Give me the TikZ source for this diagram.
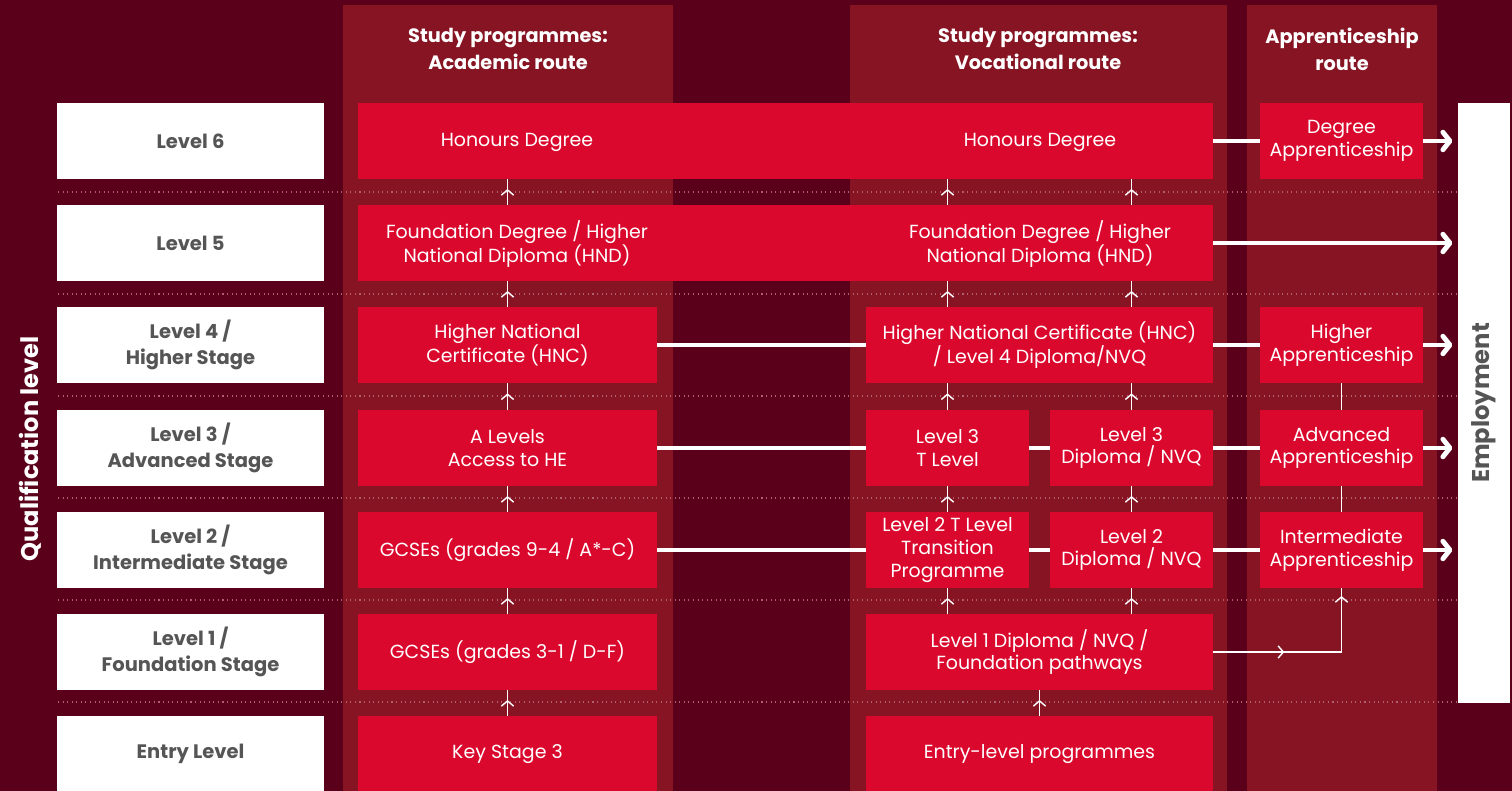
\documentclass[tikz,border=0pt]{standalone}
\usepackage{fontspec}
\setmainfont{Poppins}
\usetikzlibrary{arrows.meta,decorations.markings}
\definecolor{bgdark}{RGB}{91,0,26}
\definecolor{panel}{RGB}{134,20,35}
\definecolor{qualred}{RGB}{218,8,44}
\definecolor{labelgray}{RGB}{85,85,85}
\definecolor{dotpink}{RGB}{175,95,110}
\tikzstyle{level} = [fill=white, text=labelgray, font=\fontsize{11.1}{14.8}\selectfont\bfseries, minimum width=5.34cm, minimum height=1.52cm, align=center, inner sep=0pt]
\tikzstyle{qual} = [fill=qualred, text=white, font=\fontsize{10.8}{13}\selectfont, minimum height=1.52cm, align=center, inner sep=0pt]
\tikzstyle{acad} = [qual, minimum width=5.98cm]
\tikzstyle{voc} = [qual, minimum width=6.94cm]
\tikzstyle{half} = [qual, minimum width=3.26cm]
\tikzstyle{head} = [text=white, font=\fontsize{11}{15.4}\selectfont\bfseries, align=center]
\tikzstyle{link} = [draw=white, line width=2.8pt]
\tikzstyle{tojob} = [link, -{Straight Barb[length=4pt,width=10pt,line cap=round,line join=round]}, shorten >=3pt]
\tikzstyle{thinlink} = [draw=white, line width=0.8pt]
\tikzstyle{climb} = [thinlink, postaction={decorate}, decoration={markings, mark=at position 0.62 with {\arrow{Straight Barb[length=3pt,width=7pt]}}}]
\tikzstyle{sidestep} = [thinlink, postaction={decorate}, decoration={markings, mark=at position 0.37 with {\arrow{Straight Barb[length=3pt,width=7pt]}}, mark=at position 0.96 with {\arrow{Straight Barb[length=3pt,width=7pt]}}}]

\begin{document}
\begin{tikzpicture}[x=0.02cm, y=-0.02cm]
    \useasboundingbox (0,0) rectangle (1512,791);
    \fill[bgdark] (0,0) rectangle (1512,791);
    % route panels
    \fill[panel] (343,5) rectangle (673,791);
    \fill[panel] (850,5) rectangle (1227,791);
    \fill[panel] (1247,5) rectangle (1437,791);
    \foreach \y in {192,294,396,498,600,702}
        \draw[dotpink, dotted, line width=0.6pt] (58,\y) -- (1457,\y);

    \node[text=white, rotate=90, font=\fontsize{13.7}{15}\selectfont\bfseries] (quallevel) at (30,449) {Qualification level};
    \node[head] (acadhead) at (508,49) {Study programmes:\\Academic route};
    \node[head] (vochead) at (1038,49) {Study programmes:\\Vocational route};
    \node[head] (apphead) at (1342,49) {Apprenticeship\\route};

    % levels
    \node[level] (lvsix) at (190.5,141) {Level 6};
    \node[level] (lvfive) at (190.5,243) {Level 5};
    \node[level] (lvfour) at (190.5,345) {Level 4 /\\Higher Stage};
    \node[level] (lvthree) at (190.5,448) {Level 3 /\\Advanced Stage};
    \node[level] (lvtwo) at (190.5,550) {Level 2 /\\Intermediate Stage};
    \node[level] (lvone) at (190.5,652) {Level 1 /\\Foundation Stage};
    \node[level] (lventry) at (190.5,754) {Entry Level};

    % wide boxes
    \node[qual, minimum width=17.1cm] (hons) at (785.5,141) {};
    \node[text=white, font=\fontsize{10.8}{13}\selectfont] (honsacad) at (517,142) {Honours Degree};
    \node[text=white, font=\fontsize{10.8}{13}\selectfont] (honsvoc) at (1040,142) {Honours Degree};
    \node[qual, minimum width=17.1cm] (fnd) at (785.5,243) {};
    \node[text=white, font=\fontsize{10.8}{13}\selectfont, align=center] (fndacad) at (517,244) {Foundation Degree / Higher\\National Diploma (HND)};
    \node[text=white, font=\fontsize{10.8}{13}\selectfont, align=center] (fndvoc) at (1040,244) {Foundation Degree / Higher\\National Diploma (HND)};

    % academic route
    \node[acad] (hncacad) at (507.5,345) {Higher National\\Certificate (HNC)};
    \node[acad] (alev) at (507.5,448) {A Levels\\Access to HE};
    \node[acad] (gcsehigh) at (507.5,550) {GCSEs (grades 9-4 / A*-C)};
    \node[acad] (gcselow) at (507.5,652) {GCSEs (grades 3-1 / D-F)};
    \node[acad] (ks3) at (507.5,754) {Key Stage 3};

    % vocational route
    \node[voc] (hncvoc) at (1039.5,345) {Higher National Certificate (HNC)\\/ Level 4 Diploma/NVQ};
    \node[half] (tthree) at (947.5,448) {Level 3\\T Level};
    \node[half] (dipthree) at (1131.5,448) {Level 3\\Diploma / NVQ};
    \node[half] (ttwo) at (947.5,550) {Level 2 T Level\\Transition\\Programme};
    \node[half] (diptwo) at (1131.5,550) {Level 2\\Diploma / NVQ};
    \node[voc] (vocone) at (1039.5,652) {Level 1 Diploma / NVQ /\\Foundation pathways};
    \node[voc] (entryvoc) at (1039.5,754) {Entry-level programmes};

    % apprenticeships
    \node[half] (degapp) at (1341.5,141) {Degree\\Apprenticeship};
    \node[half] (highapp) at (1341.5,345) {Higher\\Apprenticeship};
    \node[half] (advapp) at (1341.5,448) {Advanced\\Apprenticeship};
    \node[half] (intapp) at (1341.5,550) {Intermediate\\Apprenticeship};

    \node[fill=white, minimum width=1.04cm, minimum height=12cm, inner sep=0pt] (emp) at (1484,403) {};
    \node[rotate=90, text=labelgray, font=\fontsize{13.8}{15}\selectfont\bfseries] (emptext) at (emp) {Employment};

    % progression upwards
    \draw[climb] (ks3) -- (gcselow);
    \draw[climb] (gcselow) -- (gcsehigh);
    \draw[climb] (gcsehigh) -- (alev);
    \draw[climb] (alev) -- (hncacad);
    \draw[climb] (hncacad) -- (hncacad |- fnd.south);
    \draw[climb] (fnd.north -| hncacad) -- (hons.south -| hncacad);
    \draw[climb] (entryvoc) -- (vocone);
    \draw[climb] (vocone.north -| ttwo) -- (ttwo);
    \draw[climb] (vocone.north -| diptwo) -- (diptwo);
    \draw[climb] (ttwo) -- (tthree);
    \draw[climb] (diptwo) -- (dipthree);
    \draw[climb] (tthree) -- (tthree |- hncvoc.south);
    \draw[climb] (dipthree) -- (dipthree |- hncvoc.south);
    \draw[climb] (hncvoc.north -| tthree) -- (fnd.south -| tthree);
    \draw[climb] (hncvoc.north -| dipthree) -- (fnd.south -| dipthree);
    \draw[climb] (fnd.north -| tthree) -- (hons.south -| tthree);
    \draw[climb] (fnd.north -| dipthree) -- (hons.south -| dipthree);
    \draw[thinlink] (highapp) -- (advapp);
    \draw[thinlink] (advapp) -- (intapp);
    \draw[sidestep] (vocone) -| (intapp);

    % across the routes
    \draw[link] (hons) -- (degapp);
    \draw[link] (hncacad) -- (hncvoc);
    \draw[link] (hncvoc) -- (highapp);
    \draw[link] (alev) -- (tthree);
    \draw[link] (tthree) -- (dipthree);
    \draw[link] (dipthree) -- (advapp);
    \draw[link] (gcsehigh) -- (ttwo);
    \draw[link] (ttwo) -- (diptwo);
    \draw[link] (diptwo) -- (intapp);

    % into employment
    \draw[tojob] (degapp) -- (degapp -| emp.west);
    \draw[tojob] (fnd.east) -- (fnd.east -| emp.west);
    \draw[tojob] (highapp) -- (highapp -| emp.west);
    \draw[tojob] (advapp) -- (advapp -| emp.west);
    \draw[tojob] (intapp) -- (intapp -| emp.west);
\end{tikzpicture}
\end{document}
